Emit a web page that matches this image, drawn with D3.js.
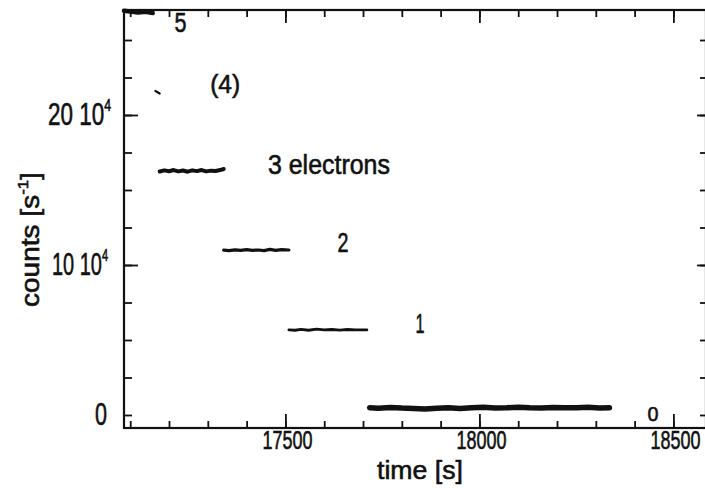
<!DOCTYPE html>
<html><head><meta charset="utf-8">
<script src="https://cdn.jsdelivr.net/npm/d3@7"></script>
<style>
body{margin:0;background:#fff}
svg text{font-family:"Liberation Sans",Arial,sans-serif;fill:#111;stroke:#111;stroke-width:0.6px}
</style>
</head><body>
<svg id="chart" width="705" height="488"></svg>
<script>
// ---------- data ----------
const xMajorTicks = [17500, 18000, 18500];
const xTickLabels = ["17500", "18000", "18500"];
const xMinorTicks = [17100,17200,17300,17400,17500,17600,17700,17800,17900,18000,18100,18200,18300,18400,18500];
const yMinorTicks = [0,25000,50000,75000,100000,125000,150000,175000,200000,225000,250000];
const yMajorTicks = [100000, 200000];
const yLabelValues = [0, 100000, 200000];
const yLabelText = ["0", "10 10", "20 10"];
const yLabelSup = ["", "4", "4"];

// count-rate levels (time [s], counts [1/s])
const level5T = [17084, 17100, 17120, 17140, 17158];
const level5C = [269500, 269000, 268400, 268800, 268000];
const level4T = [17165, 17176];
const level4C = [216000, 214300];
const level3T = [17176,17188,17200,17212,17224,17236,17248,17260,17272,17284,17296,17308,17320,17332,17341];
const level3C = [162300,163100,162500,163300,162400,163000,162200,163100,162600,163300,162400,162900,162700,163300,164000];
const level2T = [17341,17355,17370,17385,17400,17415,17430,17445,17460,17475,17490,17509];
const level2C = [109900,109600,110100,109700,110200,109800,110000,109600,110400,109800,110300,110000];
const level1T = [17509,17525,17540,17560,17580,17600,17620,17640,17660,17680,17700,17710];
const level1C = [56800,56500,57100,56500,57300,56700,57000,56600,57000,56800,56700,56700];
const level0T = [17717,17740,17770,17800,17830,17860,17890,17920,17950,17980,18010,18040,18070,18100,18130,18160,18190,18220,18250,18280,18310,18335];
const level0C = [4900,4500,5000,4600,4400,4000,4500,4900,4400,4800,5100,4700,4800,5200,4800,4600,5000,4800,4900,5200,4700,4800];
const levelLabels = ["5", "(4)", "3 electrons", "2", "1", "0"];

// ---------- drawing ----------
const svg = d3.select("#chart");
const pL = 124, pR = 706, pT = 10, pB = 428;
const x = d3.scaleLinear().domain([17084, 18584]).range([pL, pR]);
const y = d3.scaleLinear().domain([-8667, 270000]).range([pB, pT]);

const levels = [
  {t: level5T, c: level5C, w: 4.5},
  {t: level4T, c: level4C, w: 2.2},
  {t: level3T, c: level3C, w: 4},
  {t: level2T, c: level2C, w: 3.2},
  {t: level1T, c: level1C, w: 2.8},
  {t: level0T, c: level0C, w: 5.5}
];
const line = d3.line().x(d => x(d[0])).y(d => y(d[1])).curve(d3.curveLinear);
svg.append("g").selectAll("path").data(levels).join("path")
  .attr("d", d => line(d.t.map((t, i) => [t, d.c[i]])))
  .attr("fill", "none").attr("stroke", "#111")
  .attr("stroke-width", d => d.w).attr("stroke-linecap", "round").attr("stroke-linejoin", "round");

function styleAxis(g) {
  g.attr("font-family", null);
  g.select(".domain").remove();
  g.selectAll(".tick line").attr("stroke", "#111").attr("stroke-width", 1.8);
}
function addTicks(axisFn, scale, vals, size, tr) {
  svg.append("g").attr("transform", tr)
    .call(axisFn(scale).tickValues(vals).tickSize(size).tickFormat("")).call(styleAxis);
}
addTicks(d3.axisBottom, x, xMinorTicks, -7, `translate(0,${pB})`);
addTicks(d3.axisBottom, x, xMajorTicks, -14, `translate(0,${pB})`);
addTicks(d3.axisTop, x, xMinorTicks, -7, `translate(0,${pT})`);
addTicks(d3.axisTop, x, xMajorTicks, -13, `translate(0,${pT})`);
addTicks(d3.axisLeft, y, yMinorTicks, -8, `translate(${pL},0)`);
addTicks(d3.axisLeft, y, yMajorTicks, -14, `translate(${pL},0)`);
addTicks(d3.axisRight, y, yMinorTicks, -6, `translate(${pR},0)`);
addTicks(d3.axisRight, y, yMajorTicks, -9, `translate(${pR},0)`);

// frame
svg.append("rect").attr("x", pL).attr("y", pT).attr("width", pR - pL).attr("height", pB - pT)
  .attr("fill", "none").attr("stroke", "#111").attr("stroke-width", 2.2);

// condensed text helper: scales text horizontally to a target width
function fitText(parts, o) {
  const t = svg.append("text").attr("font-size", o.size).attr("text-anchor", o.anchor || "start");
  parts.forEach(p => {
    const s = t.append("tspan").text(p.s);
    if (p.size) s.attr("font-size", p.size);
    if (p.dy) s.attr("dy", p.dy);
  });
  const nat = t.node().getComputedTextLength();
  const k = o.width ? o.width / nat : (o.k || 0.75);
  t.attr("transform", `translate(${o.x},${o.y}) rotate(${o.rot || 0}) scale(${k},1)`);
  return t;
}

// x tick labels
xMajorTicks.forEach((v, i) => fitText([{s: xTickLabels[i]}],
  {x: x(v) + 2, y: 449, size: 25, anchor: "middle", width: 50}));

// y tick labels
const yLabW = [12, 56, 63], yLabR = [107, 108, 111];
yLabelValues.forEach((v, i) => {
  const parts = [{s: yLabelText[i]}];
  if (yLabelSup[i]) parts.push({s: yLabelSup[i], size: 17, dy: -15});
  fitText(parts, {x: yLabR[i], y: y(v) + 10.5, size: 31, anchor: "end", width: yLabW[i]});
});

// axis titles
fitText([{s: "time [s]"}], {x: 420, y: 479, size: 26, anchor: "middle", width: 86});
fitText([{s: "counts [s"}, {s: "-1", size: 15, dy: -11}, {s: "]", dy: 11}],
  {x: 39, y: 307, size: 25, anchor: "start", width: 135, rot: -90});

// level annotations (data coords of left edge / baseline)
const annPos = [[17214, 255300], [17306, 214700], [17455, 160700], [17634, 108700], [17835, 54700], [18433, -4000]];
const annSize = [27, 26, 27, 27, 27, 21];
const annW = [12, 30, 122, 11, 9, 11];
levelLabels.forEach((s, i) => fitText([{s}],
  {x: x(annPos[i][0]), y: y(annPos[i][1]), size: annSize[i], width: annW[i]}));
</script>
</body></html>
